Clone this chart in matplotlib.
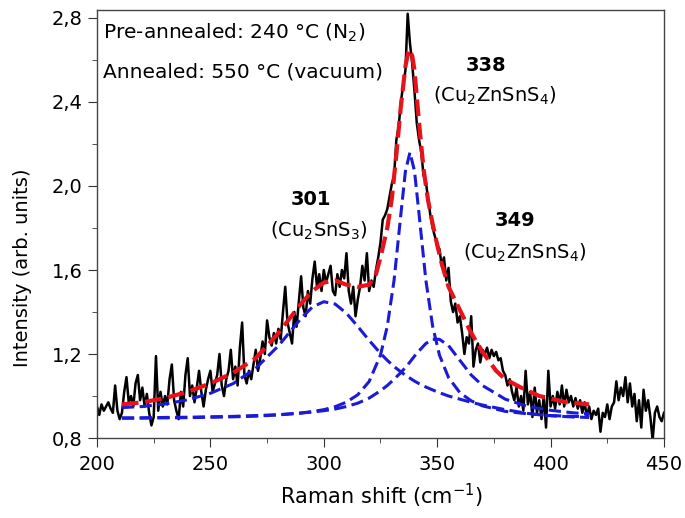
import numpy as np
import matplotlib
matplotlib.use('Agg')
import matplotlib.pyplot as plt
from matplotlib.ticker import MultipleLocator, FuncFormatter

plt.rcParams['font.family'] = ['DejaVu Sans']
plt.rcParams['mathtext.fontset'] = 'dejavusans'

shift = np.arange(200, 451)
intensity = [
    0.95, 0.91, 0.96, 0.93, 0.95, 0.97, 0.94, 0.92, 1.05, 0.93,   # 200-209
    0.89, 0.92, 1.02, 1.09, 0.97, 1.00, 0.95, 1.06, 1.10, 0.98,   # 210-219
    1.04, 0.95, 1.01, 0.92, 0.86, 0.90, 1.19, 0.93, 1.02, 0.95,   # 220-229
    1.00, 0.96, 1.08, 1.15, 0.98, 0.93, 0.89, 1.02, 0.95, 1.10,   # 230-239
    1.18, 1.00, 1.05, 0.97, 1.04, 1.12, 1.02, 0.95, 1.03, 1.08,   # 240-249
    1.12, 1.02, 1.06, 1.10, 1.20, 1.05, 1.00, 1.08, 1.12, 1.22,   # 250-259
    1.08, 1.14, 1.05, 1.23, 1.35, 1.10, 1.06, 1.12, 1.08, 1.15,   # 260-269
    1.22, 1.12, 1.18, 1.26, 1.20, 1.36, 1.28, 1.24, 1.30, 1.25,   # 270-279
    1.32, 1.27, 1.40, 1.52, 1.35, 1.30, 1.25, 1.40, 1.33, 1.45,   # 280-289
    1.57, 1.42, 1.38, 1.50, 1.44, 1.56, 1.64, 1.52, 1.58, 1.50,   # 290-299
    1.60, 1.54, 1.58, 1.62, 1.50, 1.48, 1.58, 1.52, 1.60, 1.56,   # 300-309
    1.68, 1.50, 1.44, 1.52, 1.38, 1.46, 1.52, 1.62, 1.55, 1.68,   # 310-319
    1.50, 1.55, 1.52, 1.60, 1.66, 1.73, 1.84, 1.86, 1.89, 1.95,   # 320-329
    2.01, 2.05, 2.22, 2.28, 2.40, 2.48, 2.55, 2.82, 2.68, 2.58,   # 330-339
    2.45, 2.30, 2.22, 2.16, 2.05, 2.02, 1.94, 1.86, 1.80, 1.76,   # 340-349
    1.72, 1.70, 1.62, 1.66, 1.55, 1.61, 1.45, 1.40, 1.44, 1.35,   # 350-359
    1.38, 1.30, 1.20, 1.28, 1.25, 1.38, 1.14, 1.22, 1.25, 1.16,   # 360-369
    1.22, 1.20, 1.23, 1.18, 1.22, 1.19, 1.21, 1.17, 1.18, 1.12,   # 370-379
    1.10, 1.05, 1.08, 1.02, 0.98, 1.04, 0.95, 1.00, 0.93, 1.12,   # 380-389
    0.96, 1.02, 0.90, 1.04, 0.92, 0.98, 0.89, 1.00, 0.85, 1.12,   # 390-399
    0.95, 1.00, 0.94, 1.02, 0.96, 1.05, 0.95, 1.03, 0.97, 1.00,   # 400-409
    0.95, 0.99, 0.94, 0.98, 0.92, 0.97, 0.90, 0.95, 0.89, 0.93,   # 410-419
    0.91, 0.94, 0.83, 0.92, 0.90, 0.96, 0.89, 0.95, 0.97, 1.07,   # 420-429
    0.98, 1.04, 1.00, 1.09, 0.97, 1.06, 0.95, 1.01, 0.88, 0.98,   # 430-439
    0.85, 1.03, 0.93, 0.98, 0.90, 0.79, 0.92, 0.95, 0.90, 0.88,   # 440-449
    0.92,                                                         # 450
]

# fitted components
fit_x = [211, 220, 230, 240, 250, 260, 270, 280, 290, 295, 300, 305, 310,
         315, 320, 325, 328, 331, 334, 336, 338, 340, 342, 345, 348, 351,
         355, 360, 365, 370, 380, 390, 400, 410, 417]
peak_301 = [0.945, 0.950, 0.962, 0.982, 1.013, 1.059, 1.132, 1.239, 1.370,
            1.424, 1.449, 1.438, 1.394, 1.331, 1.265, 1.203, 1.170, 1.140,
            1.115, 1.099, 1.085, 1.071, 1.059, 1.043, 1.029, 1.016, 1.000,
            0.985, 0.970, 0.957, 0.935, 0.917, 0.906, 0.900, 0.898]
peak_338 = [0.894, 0.895, 0.896, 0.897, 0.899, 0.901, 0.904, 0.910, 0.919,
            0.926, 0.935, 0.949, 0.971, 1.006, 1.069, 1.195, 1.332, 1.552,
            1.867, 2.071, 2.160, 2.071, 1.867, 1.552, 1.332, 1.195, 1.088,
            1.016, 0.977, 0.953, 0.927, 0.915, 0.907, 0.903, 0.901]
peak_349 = [0.896, 0.896, 0.898, 0.899, 0.901, 0.903, 0.907, 0.911, 0.919,
            0.924, 0.930, 0.938, 0.950, 0.966, 0.990, 1.025, 1.050, 1.080,
            1.112, 1.136, 1.162, 1.190, 1.215, 1.250, 1.270, 1.270, 1.240,
            1.170, 1.100, 1.050, 0.985, 0.950, 0.932, 0.920, 0.915]

sum_x = [211, 220, 225, 230, 240, 250, 260, 270, 280, 285, 290, 295, 300,
         305, 310, 315, 320, 323, 325, 328, 330, 332, 334, 336, 337.5, 339,
         340, 342, 344, 346, 348, 350, 352, 355, 360, 365, 370, 376, 380,
         387, 395, 407, 417]
sum_fit = [0.96, 0.97, 0.98, 0.99, 1.02, 1.06, 1.11, 1.18, 1.30, 1.37, 1.44,
           1.50, 1.54, 1.55, 1.53, 1.52, 1.53, 1.58, 1.66, 1.80, 1.94, 2.15,
           2.38, 2.57, 2.65, 2.62, 2.55, 2.30, 2.08, 1.93, 1.82, 1.72, 1.63,
           1.52, 1.41, 1.30, 1.21, 1.12, 1.08, 1.04, 1.00, 0.97, 0.96]

fig = plt.figure(figsize=(6.85, 5.18), dpi=100)
ax = fig.add_axes([0.1416, 0.1544, 0.8277, 0.8263])

ax.plot(shift, intensity, color='black', lw=1.8, zorder=2)
blue = '#1a1ad8'
for comp in (peak_301, peak_338, peak_349):
    ax.plot(fit_x, comp, color=blue, lw=2.2, dashes=(4, 1.8), zorder=3)
ax.plot(sum_x, sum_fit, color='#e8121a', lw=3.0, dashes=(4, 1.6), zorder=4)

ax.set_xlim(200, 450)
ax.set_ylim(0.8, 2.838)
ax.xaxis.set_major_locator(MultipleLocator(50))
ax.xaxis.set_minor_locator(MultipleLocator(25))
ax.yaxis.set_major_locator(MultipleLocator(0.4))
ax.yaxis.set_minor_locator(MultipleLocator(0.2))
ax.yaxis.set_major_formatter(FuncFormatter(lambda v, p: f'{v:.1f}'.replace('.', ',')))
ax.tick_params(which='both', direction='out', top=False, right=False,
               labelsize=14, color='#333333')
ax.tick_params(which='major', length=6.5)
ax.tick_params(which='minor', length=3.5)
ax.tick_params(axis='x', pad=6)
ax.tick_params(axis='y', pad=4)
for s in ax.spines.values():
    s.set_color('#444444')
    s.set_linewidth(1.0)

fig.text(382 / 685, 1 - 496 / 518, 'Raman shift (cm$^{-1}$)', fontsize=15,
         ha='center', va='center')
fig.text(23 / 685, 1 - 268 / 518, 'Intensity (arb. units)', fontsize=14,
         rotation=90, ha='center', va='center')

ax.text(202.6, 2.729, 'Pre-annealed: 240 °C (N$_2$)', fontsize=14.5, va='center')
ax.text(202.6, 2.543, 'Annealed: 550 °C (vacuum)', fontsize=14.5, va='center')

ax.text(371.7, 2.576, '338', fontsize=14, fontweight='bold', ha='center', va='center')
ax.text(375.2, 2.429, '(Cu$_2$ZnSnS$_4$)', fontsize=14, ha='center', va='center')
ax.text(294.2, 1.938, '301', fontsize=14, fontweight='bold', ha='center', va='center')
ax.text(297.7, 1.786, '(Cu$_2$SnS$_3$)', fontsize=14, ha='center', va='center')
ax.text(384.4, 1.838, '349', fontsize=14, fontweight='bold', ha='center', va='center')
ax.text(388.4, 1.681, '(Cu$_2$ZnSnS$_4$)', fontsize=14, ha='center', va='center')

fig.savefig('out.png', dpi=100)
